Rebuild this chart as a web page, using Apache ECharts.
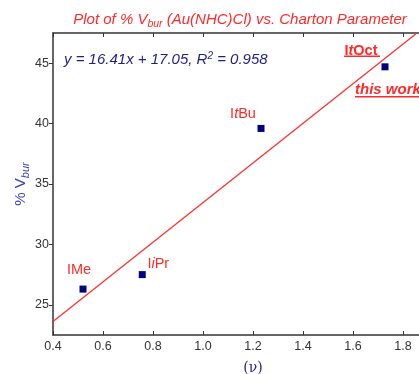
<!DOCTYPE html>
<html>
<head>
<meta charset="utf-8">
<script src="https://cdn.jsdelivr.net/npm/echarts@6/dist/echarts.min.js"></script>
<style>
html,body{margin:0;padding:0;background:#fff;}
#chart{width:419px;height:374px;}
</style>
</head>
<body>
<div id="chart"></div>
<script>
// ligands and their values
const ligands = ['IMe', 'IiPr', 'ItBu', 'ItOct'];
const charton = [0.52, 0.757, 1.232, 1.728];
const vbur = [26.3, 27.5, 39.6, 44.7];
// label pieces (rich text), with offsets in px
const ligandLabels = ['IMe', 'I{i|i}Pr', 'I{i|t}Bu', '{b|I}{bi|t}{b|Oct}'];
const labelOffsets = [[-4, -19], [16, -11], [-18, -14], [-24, -16]];
// fit line y = 16.41x + 17.05
const slope = 16.41, intercept = 17.05;
const fitX = [0.4, 1.856];
const yTicks = [25, 30, 35, 40, 45];

const red = '#ff2a2a';
const navy = '#1f1f86';
const font = 'Liberation Sans';

const myChart = echarts.init(document.getElementById('chart'));
const pts = charton.map((x, i) => ({
    value: [x, vbur[i]],
    label: {
        show: true,
        formatter: ligandLabels[i],
        offset: labelOffsets[i],
        position: 'inside'
    }
}));
const fs = 14.5;
const lbl = {
    color: red, fontFamily: font, fontSize: fs,
    rich: {
        i: {color: red, fontFamily: font, fontSize: fs, fontStyle: 'italic'},
        b: {color: red, fontFamily: font, fontSize: fs, fontWeight: 'bold'},
        bi: {color: red, fontFamily: font, fontSize: fs, fontWeight: 'bold', fontStyle: 'italic'}
    }
};

myChart.setOption({
    animation: false,
    title: [{
        text: 'Plot of % V{sub|bur} (Au(NHC)Cl) vs. Charton Parameter',
        left: 235, top: 5, textAlign: 'center',
        textStyle: {
            color: red, fontFamily: font, fontSize: 15, fontStyle: 'italic', fontWeight: 'normal',
            rich: {
                sub: {color: red, fontFamily: font, fontSize: 10.5, fontStyle: 'italic', padding: [9, 0, 0, 0]}
            }
        }
    }, {
        text: 'y = 16.41x + 17.05, R{sup|2} = 0.958',
        left: 59, top: 46,
        textStyle: {
            color: navy, fontFamily: font, fontSize: 15, fontStyle: 'italic', fontWeight: 'normal',
            rich: {
                sup: {color: navy, fontFamily: font, fontSize: 10, fontStyle: 'italic', padding: [0, 0, 8, 0]}
            }
        }
    }],
    grid: {left: 53, top: 33, right: -34, bottom: 39, outerBoundsMode: 'none', containLabel: false},
    xAxis: [{
        type: 'value', min: 0.4, max: 2.0, interval: 0.2,
        name: '(\u03bd)', nameLocation: 'middle', nameGap: 26,
        nameTextStyle: {color: navy, fontFamily: 'DejaVu Serif', fontSize: 14},
        axisLine: {lineStyle: {color: '#333', width: 1.5}},
        axisTick: {inside: true, length: 4, lineStyle: {color: '#333'}},
        axisLabel: {color: '#333', fontFamily: font, fontSize: 12.5, margin: 5,
            formatter: v => v.toFixed(1)},
        splitLine: {show: false}
    }, {
        type: 'value', position: 'top', min: 0.4, max: 2.0, interval: 0.2,
        axisLine: {lineStyle: {color: '#333', width: 1.5}},
        axisTick: {inside: true, length: 4, lineStyle: {color: '#333'}},
        axisLabel: {show: false},
        splitLine: {show: false}
    }],
    yAxis: {
        type: 'value', min: 22.5, max: 47.5,
        name: '% V{sub|bur}', nameLocation: 'middle', nameGap: 22, nameRotate: 90,
        nameMoveOverlap: false,
        nameTextStyle: {
            color: '#3c3cb4', fontFamily: font, fontSize: 15,
            rich: {sub: {color: '#3c3cb4', fontFamily: font, fontSize: 11, fontStyle: 'italic', padding: [9, 0, 0, 0]}}
        },
        axisLine: {show: true, lineStyle: {color: '#333', width: 1.5}},
        axisTick: {show: true, length: 4, lineStyle: {color: '#333'}, customValues: yTicks},
        axisLabel: {color: '#333', fontFamily: font, fontSize: 12.5, margin: 4, customValues: yTicks},
        splitLine: {show: false}
    },
    series: [{
        type: 'line',
        data: fitX.map(x => [x, slope * x + intercept]),
        symbol: 'none',
        lineStyle: {color: '#ff3030', width: 1.3},
        z: 2
    }, {
        type: 'scatter',
        data: pts,
        symbol: 'rect',
        symbolSize: 7,
        itemStyle: {color: '#000080', opacity: 1},
        label: lbl,
        z: 3
    }]
});

// underlines + "this work" tag next to ItOct
const p = myChart.convertToPixel({gridIndex: 0}, [charton[3], vbur[3]]);
myChart.setOption({
    graphic: [{
        type: 'line', shape: {x1: p[0] - 41, y1: p[1] - 10.5, x2: p[0] - 5, y2: p[1] - 10.5},
        style: {stroke: red, lineWidth: 1.5}
    }, {
        type: 'text', x: p[0] - 30, y: p[1] + 23,
        style: {text: 'this work', fill: red, font: 'italic bold 15px "Liberation Sans"', textVerticalAlign: 'middle'}
    }, {
        type: 'line', shape: {x1: p[0] - 30, y1: p[1] + 30, x2: p[0] + 45, y2: p[1] + 30},
        style: {stroke: red, lineWidth: 1.5}
    }]
});
</script>
</body>
</html>
